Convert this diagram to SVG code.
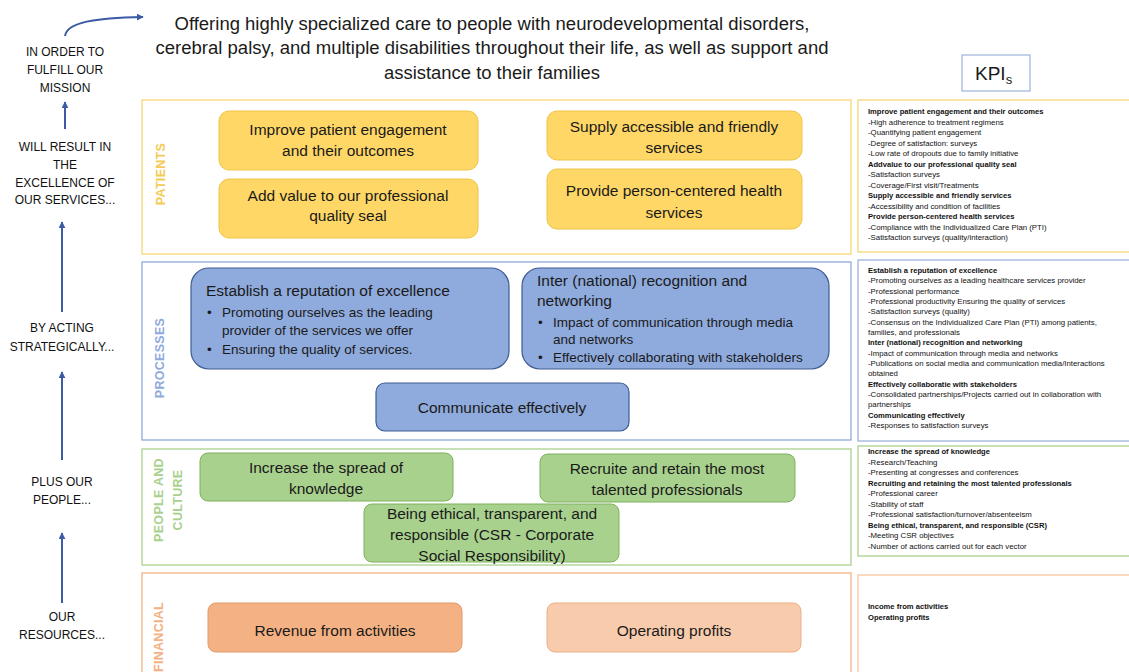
<svg xmlns="http://www.w3.org/2000/svg" width="1129" height="672" viewBox="0 0 1129 672">
<defs>
<marker id="ah" viewBox="0 0 10 10" refX="9" refY="5" markerWidth="7" markerHeight="7" orient="auto" markerUnits="userSpaceOnUse">
<path d="M0,0 L10,5 L0,10 z" fill="#3B5BA5"/>
</marker>
<style>
text{font-family:"Liberation Sans",Arial,sans-serif;fill:#1a1a1a}
.title{font-size:17.5px;text-anchor:middle}
.left{font-size:12px;text-anchor:middle;fill:#111}
.arrow{fill:none;stroke:#3B5BA5;stroke-width:2;marker-end:url(#ah)}
.panel{fill:none;stroke-width:1.3}
.lbl{font-size:12.5px;font-weight:bold;text-anchor:middle;letter-spacing:0.3px}
.bx{font-size:15.5px;text-anchor:middle}
.bt{font-size:15.5px}
.bl{font-size:13.5px}
.yb{fill:#FFD766;stroke:#EEC447;stroke-width:1}
.pb{fill:#8FAADC;stroke:#3E5C93;stroke-width:1.2}
.gb{fill:#A9D18E;stroke:#7DB25C;stroke-width:1}
.ob{fill:#F4B183;stroke:#E39A66;stroke-width:1}
.ob2{fill:#F8CBAD;stroke:#EDAF84;stroke-width:1}
.k{font-size:7.8px;fill:#111}
.kb{font-size:7.6px;font-weight:bold;fill:#111}
</style>
</defs>

<g id="mission">
<text class="title" x="492" y="30" textLength="635" lengthAdjust="spacingAndGlyphs">Offering highly specialized care to people with neurodevelopmental disorders,</text>
<text class="title" x="492" y="54" textLength="673" lengthAdjust="spacingAndGlyphs">cerebral palsy, and multiple disabilities throughout their life, as well as support and</text>
<text class="title" x="492" y="79" textLength="216" lengthAdjust="spacingAndGlyphs">assistance to their families</text>
</g>

<g id="left-column">
<text class="left" x="65" y="56">IN ORDER TO</text>
<text class="left" x="65" y="74">FULFILL OUR</text>
<text class="left" x="65" y="92">MISSION</text>
<text class="left" x="65" y="151">WILL RESULT IN</text>
<text class="left" x="65" y="169">THE</text>
<text class="left" x="65" y="187">EXCELLENCE OF</text>
<text class="left" x="65" y="204">OUR SERVICES...</text>
<text class="left" x="62" y="332">BY ACTING</text>
<text class="left" x="62" y="351">STRATEGICALLY...</text>
<text class="left" x="62" y="486">PLUS OUR</text>
<text class="left" x="62" y="504">PEOPLE...</text>
<text class="left" x="62" y="621">OUR</text>
<text class="left" x="62" y="639">RESOURCES...</text>
</g>

<g id="connectors">
<path class="arrow" d="M65,36 C67,22 95,18 143,17"/>
<path class="arrow" d="M65,129 L65,102"/>
<path class="arrow" d="M62,312 L62,222"/>
<path class="arrow" d="M62,460 L62,372"/>
<path class="arrow" d="M62,603 L62,533"/>
</g>

<g id="patients">
<rect class="panel" x="142" y="100" width="709" height="154" stroke="#F7D875"/>
<text class="lbl" transform="translate(161,174) rotate(-90)" dy="0.35em" style="fill:#F5CB55">PATIENTS</text>
<g id="p1"><rect class="yb" x="219" y="111" width="259" height="59" rx="10"/>
<text class="bx" x="348" y="135">Improve patient engagement</text><text class="bx" x="348" y="156">and their outcomes</text></g>
<g id="p2"><rect class="yb" x="219" y="179" width="259" height="59" rx="10"/>
<text class="bx" x="348" y="201">Add value to our professional</text><text class="bx" x="348" y="221">quality seal</text></g>
<g id="p3"><rect class="yb" x="547" y="111" width="255" height="49" rx="10"/>
<text class="bx" x="674" y="132">Supply accessible and friendly</text><text class="bx" x="674" y="153">services</text></g>
<g id="p4"><rect class="yb" x="547" y="169" width="255" height="60" rx="10"/>
<text class="bx" x="674" y="196">Provide person-centered health</text><text class="bx" x="674" y="218">services</text></g>
</g>

<g id="processes">
<rect class="panel" x="142" y="262" width="709" height="178" stroke="#8FAADC"/>
<text class="lbl" transform="translate(160,358) rotate(-90)" dy="0.35em" style="fill:#8FAADC">PROCESSES</text>
<g id="pr1"><rect class="pb" x="191" y="268" width="318" height="101" rx="18"/>
<text class="bt" x="206" y="296">Establish a reputation of excellence</text>
<text class="bl" x="207" y="317">•</text><text class="bl" x="222" y="317">Promoting ourselves as the leading</text>
<text class="bl" x="222" y="335">provider of the services we offer</text>
<text class="bl" x="207" y="354">•</text><text class="bl" x="222" y="354">Ensuring the quality of services.</text></g>
<g id="pr2"><rect class="pb" x="522" y="268" width="307" height="101" rx="18"/>
<text class="bt" x="537" y="286">Inter (national) recognition and</text>
<text class="bt" x="537" y="306">networking</text>
<text class="bl" x="538" y="327">•</text><text class="bl" x="553" y="327">Impact of communication through media</text>
<text class="bl" x="553" y="344">and networks</text>
<text class="bl" x="538" y="362">•</text><text class="bl" x="553" y="362">Effectively collaborating with stakeholders</text></g>
<g id="pr3"><rect class="pb" x="376" y="383" width="253" height="48" rx="9"/>
<text class="bx" x="502" y="413">Communicate effectively</text></g>
</g>

<g id="people">
<rect class="panel" x="142" y="449" width="709" height="116" stroke="#A9D18E"/>
<text class="lbl" transform="translate(159,500) rotate(-90)" dy="0.35em" style="fill:#A9D18E">PEOPLE AND</text>
<text class="lbl" transform="translate(178,500) rotate(-90)" dy="0.35em" style="fill:#A9D18E">CULTURE</text>
<g id="pc1"><rect class="gb" x="200" y="453" width="253" height="48" rx="8"/>
<text class="bx" x="326" y="473">Increase the spread of</text><text class="bx" x="326" y="494">knowledge</text></g>
<g id="pc2"><rect class="gb" x="540" y="454" width="255" height="48" rx="8"/>
<text class="bx" x="667" y="474">Recruite and retain the most</text><text class="bx" x="667" y="495">talented professionals</text></g>
<g id="pc3"><rect class="gb" x="364" y="504" width="255" height="58" rx="8"/>
<text class="bx" x="492" y="519">Being ethical, transparent, and</text><text class="bx" x="492" y="540">responsible (CSR - Corporate</text><text class="bx" x="492" y="561">Social Responsibility)</text></g>
</g>

<g id="financial">
<rect class="panel" x="142" y="573" width="709" height="120" stroke="#F4B183"/>
<text class="lbl" transform="translate(159,637) rotate(-90)" dy="0.35em" style="fill:#F4B183">FINANCIAL</text>
<g id="f1"><rect class="ob" x="208" y="603" width="254" height="49" rx="8"/>
<text class="bx" x="335" y="636">Revenue from activities</text></g>
<g id="f2"><rect class="ob2" x="547" y="603" width="254" height="49" rx="8"/>
<text class="bx" x="674" y="636">Operating profits</text></g>
</g>

<g id="kpi-title">
<rect x="962" y="55" width="68" height="36" fill="none" stroke="#9DB3DE" stroke-width="1.2"/>
<text x="975" y="80" style="font-size:19px">KPI<tspan dy="4" style="font-size:13px">s</tspan></text>
</g>

<g id="kpi-patients">
<rect class="panel" x="858" y="100" width="290" height="152" stroke="#F6D873"/>
<text class="kb" x="868" y="114">Improve patient engagement and their outcomes</text>
<text class="k" x="868" y="124.5">-High adherence to treatment regimens</text>
<text class="k" x="868" y="135">-Quantifying patient engagement</text>
<text class="k" x="868" y="145.5">-Degree of satisfaction: surveys</text>
<text class="k" x="868" y="156">-Low rate of dropouts due to family initiative</text>
<text class="kb" x="868" y="166.5">Addvalue to our professional quality seal</text>
<text class="k" x="868" y="177">-Satisfaction surveys</text>
<text class="k" x="868" y="187.5">-Coverage/First visit/Treatments</text>
<text class="kb" x="868" y="198">Supply accessible and friendly services</text>
<text class="k" x="868" y="208.5">-Accessibility and condition of facilities</text>
<text class="kb" x="868" y="219">Provide person-centered health services</text>
<text class="k" x="868" y="229.5">-Compliance with the Individualized Care Plan (PTI)</text>
<text class="k" x="868" y="240">-Satisfaction surveys (quality/interaction)</text>
</g>

<g id="kpi-processes">
<rect class="panel" x="858" y="260" width="290" height="181" stroke="#9DB3DE"/>
<text class="kb" x="868" y="273">Establish a reputation of excellence</text>
<text class="k" x="868" y="283.3">-Promoting ourselves as a leading healthcare services provider</text>
<text class="k" x="868" y="293.7">-Professional performance</text>
<text class="k" x="868" y="304">-Professional productivity Ensuring the quality of services</text>
<text class="k" x="868" y="314.3">-Satisfaction surveys (quality)</text>
<text class="k" x="868" y="324.7">-Consensus on the Individualized Care Plan (PTI) among patients,</text>
<text class="k" x="868" y="335">families, and professionals</text>
<text class="kb" x="868" y="345.3">Inter (national) recognition and networking</text>
<text class="k" x="868" y="355.7">-Impact of communication through media and networks</text>
<text class="k" x="868" y="366">-Publications on social media and communication media/Interactions</text>
<text class="k" x="868" y="376.3">obtained</text>
<text class="kb" x="868" y="386.7">Effectively collaboratie with stakeholders</text>
<text class="k" x="868" y="397">-Consolidated partnerships/Projects carried out in collaboration with</text>
<text class="k" x="868" y="407.3">partnerships</text>
<text class="kb" x="868" y="417.7">Communicating effectively</text>
<text class="k" x="868" y="428">-Responses to satisfaction surveys</text>
</g>

<g id="kpi-people">
<rect class="panel" x="858" y="446" width="290" height="110" stroke="#A9D18E"/>
<text class="kb" x="868" y="454">Increase the spread of knowledge</text>
<text class="k" x="868" y="464.5">-Research/Teaching</text>
<text class="k" x="868" y="475">-Presenting at congresses and conferences</text>
<text class="kb" x="868" y="485.5">Recruiting and retaining the most talented professionals</text>
<text class="k" x="868" y="496">-Professional career</text>
<text class="k" x="868" y="506.5">-Stability of staff</text>
<text class="k" x="868" y="517">-Professional satisfaction/turnover/absenteeism</text>
<text class="kb" x="868" y="527.5">Being ethical, transparent, and responsible (CSR)</text>
<text class="k" x="868" y="538">-Meeting CSR objectives</text>
<text class="k" x="868" y="548.5">-Number of actions carried out for each vector</text>
</g>

<g id="kpi-financial">
<rect class="panel" x="858" y="575" width="290" height="120" stroke="#F4C7A2"/>
<text class="kb" x="868" y="609">Income from activities</text>
<text class="kb" x="868" y="620">Operating profits</text>
</g>
</svg>
